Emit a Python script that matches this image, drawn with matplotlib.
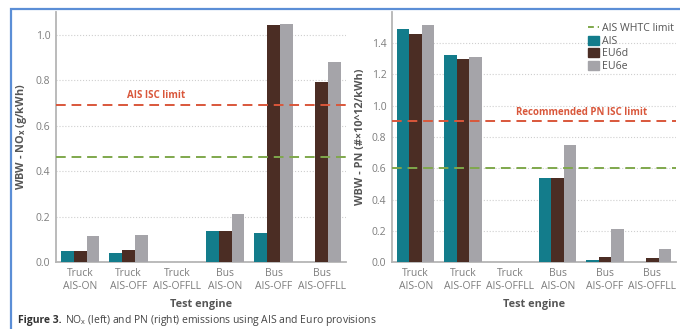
import numpy as np
import matplotlib.pyplot as plt
from matplotlib.patches import Rectangle, Patch
from matplotlib.lines import Line2D

plt.rcParams['font.family'] = ['Open Sans', 'DejaVu Sans']

# Datos
engines = ['Truck\nAIS-ON', 'Truck\nAIS-OFF', 'Truck\nAIS-OFFLL',
           'Bus\nAIS-ON', 'Bus\nAIS-OFF', 'Bus\nAIS-OFFLL']
series = ['AIS', 'EU6d', 'EU6e']

nox_ais = [0.048, 0.040, 0.0, 0.138, 0.128, 0.0]
nox_eu6d = [0.048, 0.051, 0.0, 0.138, 1.043, 0.794]
nox_eu6e = [0.115, 0.117, 0.0, 0.213, 1.048, 0.878]

pn_ais = [1.489, 1.327, 0.0, 0.537, 0.013, 0.0]
pn_eu6d = [1.457, 1.297, 0.0, 0.537, 0.030, 0.026]
pn_eu6e = [1.519, 1.312, 0.0, 0.750, 0.211, 0.081]

nox_isc_limit = 0.69
nox_whtc_limit = 0.46
pn_isc_limit = 0.90
pn_whtc_limit = 0.60

colores = ['#137c8b', '#4b2d24', '#a5a4a9']
rojo = '#d9573b'
verde = '#7fa84c'
gris = '#7d7d7d'

fig = plt.figure(figsize=(6.8, 3.29), dpi=100)

# marco azul de la figura
fig.patches.append(Rectangle((11 / 680, -0.1), 1.2, 1.1 - 9.5 / 329, transform=fig.transFigure,
                             fill=False, edgecolor='#5b8ed6', linewidth=1.6))

ax1 = fig.add_axes([56 / 680, 1 - 262 / 329, 290 / 680, 250 / 329])
ax2 = fig.add_axes([392 / 680, 1 - 262 / 329, 284 / 680, 250 / 329])

x = np.arange(len(engines))
w = 0.265


def barras(ax, datos, ymax, yticks):
    for i, (vals, c) in enumerate(zip(datos, colores)):
        ax.bar(x + (i - 1) * w, vals, w, color=c, label=series[i], zorder=3)
    ax.set_xlim(-0.5, len(engines) - 0.5)
    ax.set_ylim(0, ymax)
    ax.set_yticks(yticks)
    ax.set_yticklabels([f'{t:.1f}' for t in yticks])
    ax.set_xticks(x)
    ax.set_xticklabels(engines, linespacing=1.25)
    ax.tick_params(length=0, labelsize=7.5, colors=gris, pad=4)
    ax.grid(axis='y', linestyle=':', color='#cfcfcf', linewidth=0.8, zorder=0)
    for s in ['top', 'right']:
        ax.spines[s].set_visible(False)
    for s in ['left', 'bottom']:
        ax.spines[s].set_color('#b5b5b5')
        ax.spines[s].set_linewidth(1.3)
    ax.set_xlabel('Test engine', fontsize=7.8, fontweight='bold', color='#555555', labelpad=5)


barras(ax1, [nox_ais, nox_eu6d, nox_eu6e], 1.1, np.arange(0, 1.01, 0.2))
barras(ax2, [pn_ais, pn_eu6d, pn_eu6e], 1.6, np.arange(0, 1.41, 0.2))

ax1.set_ylabel('WBW - NO$_\\mathregular{x}$ (g/kWh)', fontsize=7.8, fontweight='bold',
               color='#555555', labelpad=5)
ax2.set_ylabel('WBW - PN (#×10^12/kWh)', fontsize=7.8, fontweight='bold',
               color='#555555', labelpad=4)

# limites
ax1.axhline(nox_isc_limit, color=rojo, linestyle=(0, (5, 3)), linewidth=1.4, zorder=4)
ax1.axhline(nox_whtc_limit, color=verde, linestyle=(0, (5, 3)), linewidth=1.4, zorder=4)
ax2.axhline(pn_isc_limit, color=rojo, linestyle=(0, (5, 3)), linewidth=1.4, zorder=4)
ax2.axhline(pn_whtc_limit, color=verde, linestyle=(0, (5, 3)), linewidth=1.4, zorder=4)

ax1.text(1.57, nox_isc_limit + 0.018, 'AIS ISC limit', color=rojo, fontsize=7,
         fontweight='bold', ha='center', va='bottom')
ax2.text(3.5, pn_isc_limit + 0.02, 'Recommended PN ISC limit', color=rojo, fontsize=7,
         fontweight='bold', ha='center', va='bottom')

handles = [Line2D([0], [0], color=verde, linestyle=(0, (3, 2)), linewidth=1.4)]
handles += [Patch(color=c) for c in colores]
ax2.legend(handles, ['AIS WHTC limit'] + series, loc='upper left',
           bbox_to_anchor=(0.665, 0.985), frameon=False, fontsize=7.6,
           handlelength=1.0, handleheight=0.9, handletextpad=0.3,
           labelspacing=0.15, borderpad=0.2, labelcolor='#555555')

# pie de figura
t1 = fig.text(18 / 680, 1 - 321 / 329, 'Figure 3.', fontsize=7.5, fontweight='bold',
              color='#333333', va='center')
fig.canvas.draw()
bb = t1.get_window_extent()
fig.text((bb.x1 + 3) / 680, 1 - 321 / 329,
         'NO$_\\mathregular{x}$ (left) and PN (right) emissions using AIS and Euro provisions',
         fontsize=7.5, color='#444444', va='center')

fig.savefig('out.png', dpi=100)
